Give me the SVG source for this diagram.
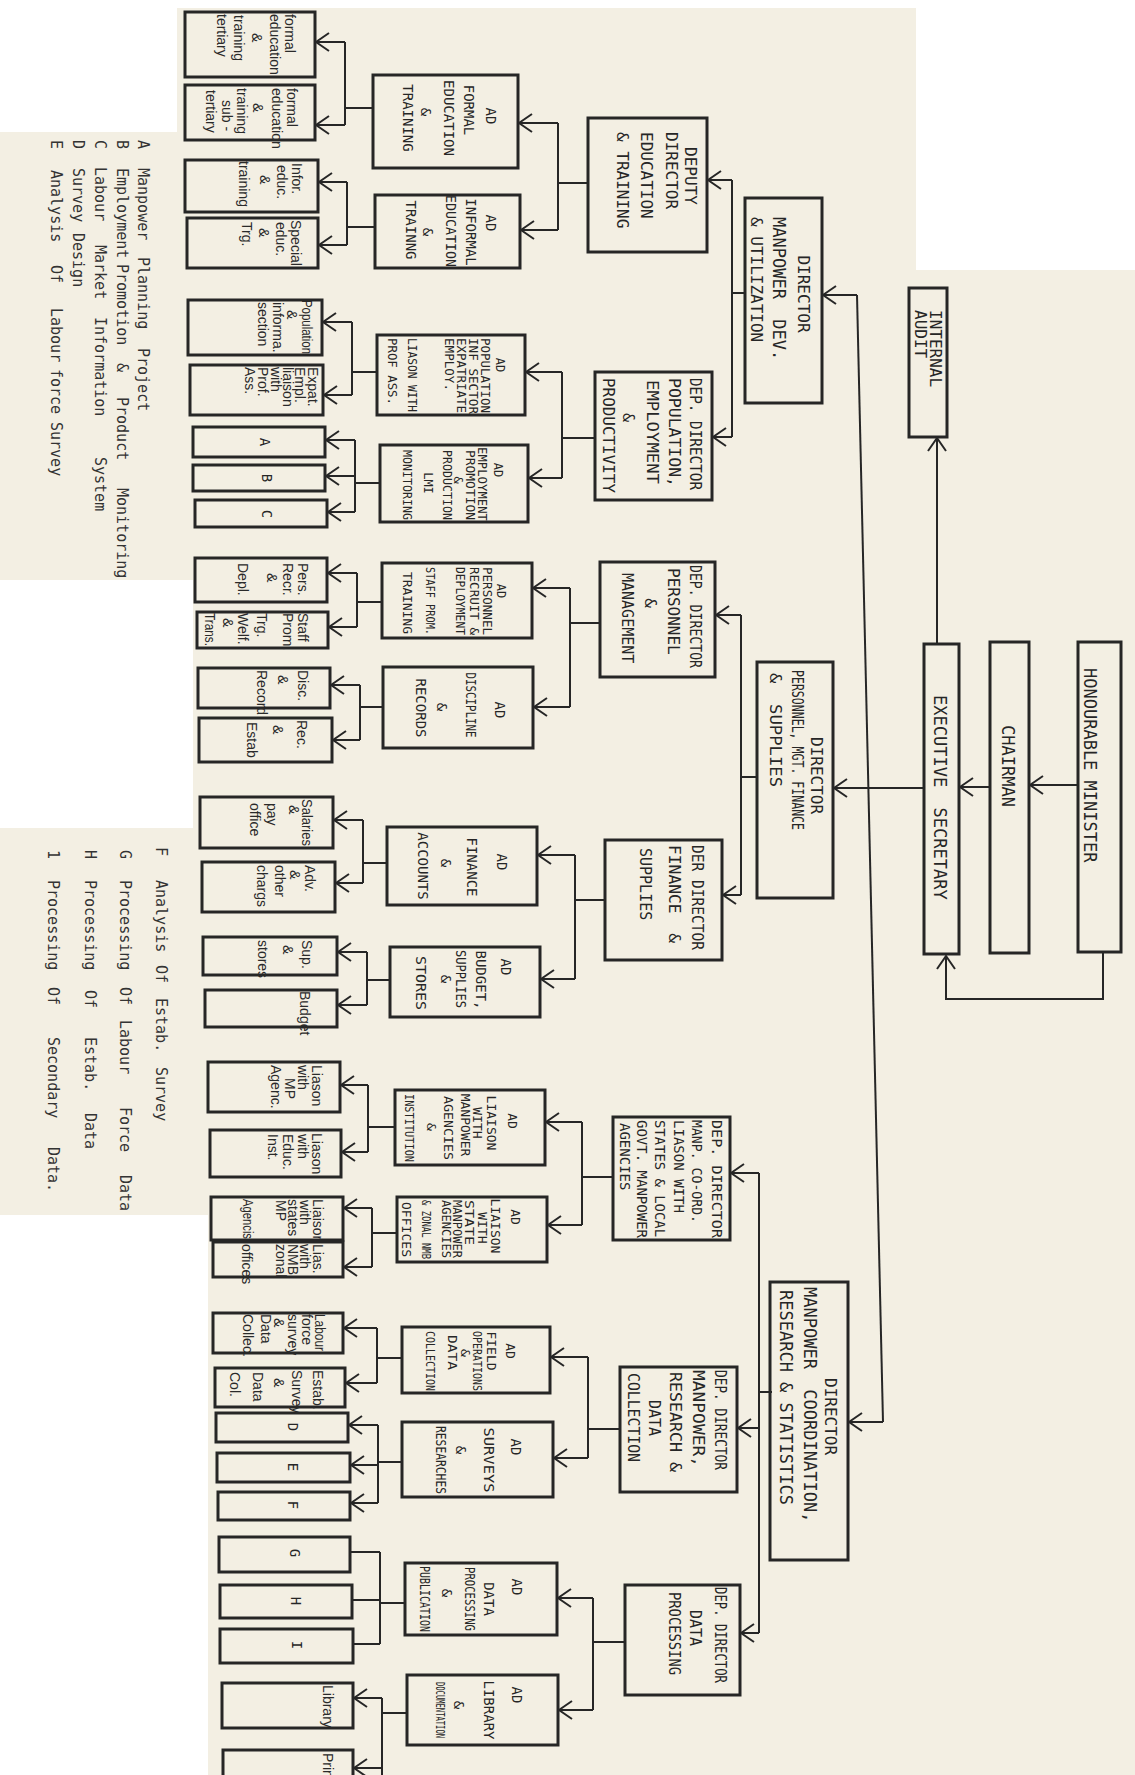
<svg xmlns="http://www.w3.org/2000/svg" width="1135" height="1775" viewBox="0 0 1135 1775">
<style>
.b{fill:none;stroke:#262626;stroke-width:3}
.m{font-family:"DejaVu Sans Mono",monospace;fill:#262626;dominant-baseline:central}
.h{font-family:"Liberation Sans",Arial,sans-serif;fill:#2a2a2a;dominant-baseline:central;font-size:14px}
.lg{font-family:"DejaVu Sans Mono",monospace;fill:#333;dominant-baseline:central;font-size:15px}
.c{text-anchor:middle}
.s12{font-size:12px}.s13{font-size:13px}.s14{font-size:14px}.s15{font-size:15px}.s16{font-size:16px}.s17{font-size:17px}
.k{fill:none;stroke:#262626;stroke-width:2}
.a{marker-end:url(#ah)}
</style>
<defs>
<marker id="ah" markerUnits="userSpaceOnUse" markerWidth="16" markerHeight="20" viewBox="0 0 16 20" refX="14" refY="10" orient="auto"><path d="M1,1 L14,10 L1,19" fill="none" stroke="#262626" stroke-width="2"/></marker>
</defs>
<rect width="1135" height="1775" fill="#ffffff"/>
<path d="M177,8 H916 V270 H1135 V1775 H208 V1215 H0 V828 H193 V580 H0 V132 H177 Z" fill="#f3efe3"/>

<g id="legend" transform="rotate(90)">
<text class="lg" y="-143"><tspan x="140">A</tspan><tspan x="168">Manpower</tspan><tspan x="257">Planning</tspan><tspan x="348">Project</tspan></text>
<text class="lg" y="-122"><tspan x="140">B</tspan><tspan x="168">Employment</tspan><tspan x="264">Promotion</tspan><tspan x="363">&amp;</tspan><tspan x="397">Product</tspan><tspan x="488">Monitoring</tspan></text>
<text class="lg" y="-100"><tspan x="140">C</tspan><tspan x="167">Labour</tspan><tspan x="245">Market</tspan><tspan x="317">Information</tspan><tspan x="457">System</tspan></text>
<text class="lg" y="-78"><tspan x="140">D</tspan><tspan x="168">Survey</tspan><tspan x="233">Design</tspan></text>
<text class="lg" y="-56"><tspan x="140">E</tspan><tspan x="170">Analysis</tspan><tspan x="265">Of</tspan><tspan x="308">Labour</tspan><tspan x="369">force</tspan><tspan x="422">Survey</tspan></text>
<text class="lg" y="-161"><tspan x="847">F</tspan><tspan x="880">Analysis</tspan><tspan x="965">Of</tspan><tspan x="998">Estab.</tspan><tspan x="1067">Survey</tspan></text>
<text class="lg" y="-125"><tspan x="850">G</tspan><tspan x="880">Processing</tspan><tspan x="987">Of</tspan><tspan x="1020">Labour</tspan><tspan x="1107">Force</tspan><tspan x="1175">Data</tspan></text>
<text class="lg" y="-90"><tspan x="850">H</tspan><tspan x="880">Processing</tspan><tspan x="990">Of</tspan><tspan x="1037">Estab.</tspan><tspan x="1113">Data</tspan></text>
<text class="lg" y="-53"><tspan x="850">1</tspan><tspan x="880">Processing</tspan><tspan x="987">Of</tspan><tspan x="1037">Secondary</tspan><tspan x="1147">Data.</tspan></text>
</g>

<g id="connectors">
<path class="k" d="M857,295 L883,1422" stroke-width="1.6"/>
<path class="k a" d="M857,295 H823"/>
<path class="k a" d="M883,1422 H849"/>
<path class="k a" d="M1078,785 H1030"/>
<path class="k a" d="M990,787 H960"/>
<path class="k a" d="M937,644 V438"/>
<path class="k a" d="M1103,952 V999 H946 V956"/>
<path class="k a" d="M924,788 H834"/>
<path class="k" d="M745,293 H732 M732,180 V437"/>
<path class="k a" d="M732,180 H708"/>
<path class="k a" d="M732,437 H713"/>
<path class="k" d="M757,777 H741 M741,615 V895"/>
<path class="k a" d="M741,615 H716"/>
<path class="k a" d="M741,895 H723"/>
<path class="k" d="M772,1392 H759 M759,1173 V1633"/>
<path class="k a" d="M759,1173 H731"/>
<path class="k a" d="M759,1428 H738"/>
<path class="k a" d="M759,1633 H741"/>
<path class="k" d="M588,183 H558 M558,123 V230"/>
<path class="k a" d="M558,123 H519"/>
<path class="k a" d="M558,230 H521"/>
<path class="k" d="M595,438 H562 M562,372 V478"/>
<path class="k a" d="M562,372 H526"/>
<path class="k a" d="M562,478 H529"/>
<path class="k" d="M600,623 H570 M570,588 V707"/>
<path class="k a" d="M570,588 H533"/>
<path class="k a" d="M570,707 H534"/>
<path class="k" d="M605,900 H575 M575,855 V979"/>
<path class="k a" d="M575,855 H538"/>
<path class="k a" d="M575,979 H541"/>
<path class="k" d="M613,1177 H582 M582,1122 V1225"/>
<path class="k a" d="M582,1122 H546"/>
<path class="k a" d="M582,1225 H548"/>
<path class="k" d="M620,1429 H588 M588,1357 V1458"/>
<path class="k a" d="M588,1357 H551"/>
<path class="k a" d="M588,1458 H554"/>
<path class="k" d="M625,1642 H593 M593,1598 V1710"/>
<path class="k a" d="M593,1598 H558"/>
<path class="k a" d="M593,1710 H559"/>
<path class="k" d="M373,108 H345 M345,42 V125"/>
<path class="k a" d="M345,42 H316"/>
<path class="k a" d="M345,125 H316"/>
<path class="k" d="M375,227 H347 M347,182 V245"/>
<path class="k a" d="M347,182 H319"/>
<path class="k a" d="M347,245 H319"/>
<path class="k" d="M377,372 H352 M352,322 V395"/>
<path class="k a" d="M352,322 H323"/>
<path class="k a" d="M352,395 H324"/>
<path class="k" d="M380,483 H355 M355,440 V512"/>
<path class="k a" d="M355,440 H326"/>
<path class="k a" d="M355,476 H326"/>
<path class="k a" d="M355,512 H328"/>
<path class="k" d="M382,602 H357 M357,573 V627"/>
<path class="k a" d="M357,573 H328"/>
<path class="k a" d="M357,627 H329"/>
<path class="k" d="M383,707 H360 M360,685 V740"/>
<path class="k a" d="M360,685 H331"/>
<path class="k a" d="M360,740 H333"/>
<path class="k" d="M387,863 H363 M363,820 V883"/>
<path class="k a" d="M363,820 H334"/>
<path class="k a" d="M363,883 H336"/>
<path class="k" d="M390,980 H367 M367,952 V1005"/>
<path class="k a" d="M367,952 H338"/>
<path class="k a" d="M367,1005 H338"/>
<path class="k" d="M395,1127 H368 M368,1085 V1152"/>
<path class="k a" d="M368,1085 H341"/>
<path class="k a" d="M368,1152 H342"/>
<path class="k" d="M397,1233 H372 M372,1208 V1267"/>
<path class="k a" d="M372,1208 H344"/>
<path class="k a" d="M372,1267 H344"/>
<path class="k" d="M402,1358 H377 M377,1328 V1383"/>
<path class="k a" d="M377,1328 H344"/>
<path class="k a" d="M377,1383 H346"/>
<path class="k" d="M402,1462 H378 M378,1425 V1503"/>
<path class="k a" d="M378,1425 H349"/>
<path class="k a" d="M378,1465 H351"/>
<path class="k a" d="M378,1503 H351"/>
<path class="k" d="M405,1603 H380 M380,1552 V1644 M380,1552 H351 M380,1600 H353 M380,1644 H354"/>
<path class="k" d="M407,1713 H382 M382,1698 V1775"/>
<path class="k a" d="M382,1698 H354"/>
<path class="k a" d="M382,1768 H354"/>
</g>

<g id="n-minister"><rect class="b" x="1078" y="642" width="43" height="310"/><g transform="rotate(90)"><text class="m s17" x="668" y="-1090">HONOURABLE MINISTER</text></g></g>
<g id="n-chairman"><rect class="b" x="990" y="642" width="39" height="311"/><g transform="rotate(90)"><text class="m s17" x="725" y="-1008">CHAIRMAN</text></g></g>
<g id="n-execsec"><rect class="b" x="924" y="644" width="35" height="310"/><g transform="rotate(90)"><text class="m s17" x="695" y="-940" xml:space="preserve">EXECUTIVE  SECRETARY</text></g></g>
<g id="n-audit"><rect class="b" x="909" y="288" width="38" height="149"/><g transform="rotate(90)"><text class="m s16" x="310" y="-935">INTERNAL</text><text class="m s16" x="310" y="-920">AUDIT</text></g></g>

<g id="n-dir-mdu"><rect class="b" x="745" y="198" width="77" height="205"/><g transform="rotate(90)">
<text class="m s16 c" x="294" y="-803">DIRECTOR</text>
<text class="m s17" x="217" y="-779" xml:space="preserve">MANPOWER  DEV.</text>
<text class="m s16" x="217" y="-756">&amp; UTILIZATION</text></g></g>
<g id="n-dir-pmfs"><rect class="b" x="757" y="662" width="76" height="236"/><g transform="rotate(90)">
<text class="m s16" x="737" y="-816">DIRECTOR</text>
<text class="m s16" x="670" y="-797" textLength="160" lengthAdjust="spacingAndGlyphs">PERSONNEL, MGT. FINANCE</text>
<text class="m s16" x="673" y="-775" xml:space="preserve" textLength="114" lengthAdjust="spacingAndGlyphs">&amp;  SUPPLIES</text></g></g>
<g id="n-dir-mcrs"><rect class="b" x="770" y="1282" width="78" height="278"/><g transform="rotate(90)">
<text class="m s16" x="1378" y="-830">DIRECTOR</text>
<text class="m s17" x="1287" y="-810" xml:space="preserve">MANPOWER  COORDINATION,</text>
<text class="m s17" x="1290" y="-786">RESEARCH &amp; STATISTICS</text></g></g>

<g id="n-dd-edu"><rect class="b" x="588" y="118" width="119" height="134"/><g transform="rotate(90)">
<text class="m s16" x="147" y="-690">DEPUTY</text>
<text class="m s16" x="132" y="-671">DIRECTOR</text>
<text class="m s16" x="132" y="-646">EDUCATION</text>
<text class="m s16" x="132" y="-622">&amp; TRAINING</text></g></g>
<g id="n-dd-pop"><rect class="b" x="595" y="372" width="117" height="128"/><g transform="rotate(90)">
<text class="m s15" x="378" y="-695" textLength="112" lengthAdjust="spacingAndGlyphs">DEP. DIRECTOR</text>
<text class="m s15" x="378" y="-674" textLength="109" lengthAdjust="spacingAndGlyphs">POPULATION,</text>
<text class="m s15" x="380" y="-652" textLength="104" lengthAdjust="spacingAndGlyphs">EMPLOYMENT</text>
<text class="m s15" x="413" y="-628">&amp;</text>
<text class="m s15" x="378" y="-608" textLength="115" lengthAdjust="spacingAndGlyphs">PRODUCTIVITY</text></g></g>
<g id="n-dd-pm"><rect class="b" x="600" y="562" width="115" height="115"/><g transform="rotate(90)">
<text class="m s15" x="565" y="-695" textLength="103" lengthAdjust="spacingAndGlyphs">DEP. DIRECTOR</text>
<text class="m s16" x="568" y="-673">PERSONNEL</text>
<text class="m s16 c" x="603" y="-650">&amp;</text>
<text class="m s15" x="573" y="-627">MANAGEMENT</text></g></g>
<g id="n-dd-fs"><rect class="b" x="605" y="840" width="117" height="120"/><g transform="rotate(90)">
<text class="m s15" x="845" y="-697" textLength="105" lengthAdjust="spacingAndGlyphs">DER DIRECTOR</text>
<text class="m s15" x="845" y="-674" xml:space="preserve" textLength="98" lengthAdjust="spacingAndGlyphs">FINANCE  &amp;</text>
<text class="m s15" x="848" y="-645">SUPPLIES</text></g></g>
<g id="n-dd-coord"><rect class="b" x="613" y="1117" width="117" height="123"/><g transform="rotate(90)">
<text class="m s14" x="1120" y="-717" textLength="118" lengthAdjust="spacingAndGlyphs">DEP. DIRECTOR</text>
<text class="m s14" x="1120" y="-697" textLength="103" lengthAdjust="spacingAndGlyphs">MANP. CO-ORD.</text>
<text class="m s14" x="1120" y="-679" textLength="93" lengthAdjust="spacingAndGlyphs">LIASON WITH</text>
<text class="m s14" x="1120" y="-660" textLength="117" lengthAdjust="spacingAndGlyphs">STATES &amp; LOCAL</text>
<text class="m s14" x="1120" y="-642" textLength="118" lengthAdjust="spacingAndGlyphs">GOVT. MANPOWER</text>
<text class="m s14" x="1123" y="-625">AGENCIES</text></g></g>
<g id="n-dd-mrdc"><rect class="b" x="620" y="1367" width="117" height="125"/><g transform="rotate(90)">
<text class="m s15" x="1370" y="-720" textLength="100" lengthAdjust="spacingAndGlyphs">DEP. DIRECTOR</text>
<text class="m s15" x="1370" y="-698" textLength="97" lengthAdjust="spacingAndGlyphs">MANPOWER,</text>
<text class="m s15" x="1372" y="-675" textLength="100" lengthAdjust="spacingAndGlyphs">RESEARCH &amp;</text>
<text class="m s15 c" x="1418" y="-654">DATA</text>
<text class="m s15" x="1373" y="-633" textLength="89" lengthAdjust="spacingAndGlyphs">COLLECTION</text></g></g>
<g id="n-dd-dp"><rect class="b" x="625" y="1585" width="115" height="110"/><g transform="rotate(90)">
<text class="m s15" x="1587" y="-720" textLength="96" lengthAdjust="spacingAndGlyphs">DEP. DIRECTOR</text>
<text class="m s15 c" x="1628" y="-695">DATA</text>
<text class="m s15" x="1592" y="-674" textLength="83" lengthAdjust="spacingAndGlyphs">PROCESSING</text></g></g>

<g id="n-ad-formal"><rect class="b" x="373" y="75" width="145" height="93"/><g transform="rotate(90)">
<text class="m s14 c" x="116" y="-491">AD</text>
<text class="m s14 c" x="110" y="-469">FORMAL</text>
<text class="m s14 c" x="118" y="-449">EDUCATION</text>
<text class="m s14 c" x="112" y="-426">&amp;</text>
<text class="m s14 c" x="118" y="-408">TRAINING</text></g></g>
<g id="n-ad-informal"><rect class="b" x="375" y="195" width="145" height="73"/><g transform="rotate(90)">
<text class="m s14 c" x="223" y="-491">AD</text>
<text class="m s14 c" x="232" y="-471">INFORMAL</text>
<text class="m s14 c" x="231" y="-451" textLength="72" lengthAdjust="spacingAndGlyphs">EDUCATION</text>
<text class="m s14 c" x="232" y="-428">&amp;</text>
<text class="m s14 c" x="230" y="-411">TRAINNG</text></g></g>
<g id="n-ad-pop"><rect class="b" x="377" y="335" width="148" height="80"/><g transform="rotate(90)">
<text class="m s12 c" x="365" y="-500">AD</text>
<text class="m s12" x="338" y="-485" textLength="75" lengthAdjust="spacingAndGlyphs">POPULATION</text>
<text class="m s12" x="338" y="-473" textLength="76" lengthAdjust="spacingAndGlyphs">INF SECTOR</text>
<text class="m s12" x="338" y="-461" textLength="75" lengthAdjust="spacingAndGlyphs">EXPATRIATE</text>
<text class="m s12" x="338" y="-449" textLength="53" lengthAdjust="spacingAndGlyphs">EMPLOY.</text>
<text class="m s12" x="338" y="-412" textLength="74" lengthAdjust="spacingAndGlyphs">LIASON WITH</text>
<text class="m s12" x="338" y="-392" textLength="67" lengthAdjust="spacingAndGlyphs">PROF ASS.</text></g></g>
<g id="n-ad-emp"><rect class="b" x="380" y="445" width="148" height="77"/><g transform="rotate(90)">
<text class="m s12 c" x="470" y="-498">AD</text>
<text class="m s12" x="447" y="-482" textLength="74" lengthAdjust="spacingAndGlyphs">EMPLOYMENT</text>
<text class="m s12" x="450" y="-470" textLength="70" lengthAdjust="spacingAndGlyphs">PROMOTION</text>
<text class="m s12 c" x="480" y="-458">&amp;</text>
<text class="m s12" x="450" y="-447" textLength="70" lengthAdjust="spacingAndGlyphs">PRODUCTION</text>
<text class="m s12 c" x="483" y="-428">LMI</text>
<text class="m s12" x="450" y="-407" textLength="70" lengthAdjust="spacingAndGlyphs">MONITORING</text></g></g>
<g id="n-ad-pers"><rect class="b" x="382" y="563" width="150" height="75"/><g transform="rotate(90)">
<text class="m s12 c" x="591" y="-501">AD</text>
<text class="m s12" x="567" y="-487" textLength="68" lengthAdjust="spacingAndGlyphs">PERSONNEL</text>
<text class="m s12" x="567" y="-474" textLength="68" lengthAdjust="spacingAndGlyphs">RECRUIT &amp;</text>
<text class="m s12" x="567" y="-460" textLength="68" lengthAdjust="spacingAndGlyphs">DEPLOYMENT</text>
<text class="m s12" x="567" y="-430" textLength="68" lengthAdjust="spacingAndGlyphs">STAFF PROM.</text>
<text class="m s12" x="572" y="-407" textLength="62" lengthAdjust="spacingAndGlyphs">TRAINING</text></g></g>
<g id="n-ad-disc"><rect class="b" x="383" y="667" width="150" height="81"/><g transform="rotate(90)">
<text class="m s14 c" x="710" y="-500">AD</text>
<text class="m s14 c" x="705" y="-471" textLength="65" lengthAdjust="spacingAndGlyphs">DISCIPLINE</text>
<text class="m s14 c" x="707" y="-442">&amp;</text>
<text class="m s14 c" x="708" y="-421">RECORDS</text></g></g>
<g id="n-ad-fin"><rect class="b" x="387" y="827" width="150" height="78"/><g transform="rotate(90)">
<text class="m s14 c" x="862" y="-502">AD</text>
<text class="m s14 c" x="867" y="-472">FINANCE</text>
<text class="m s14 c" x="863" y="-446">&amp;</text>
<text class="m s14 c" x="866" y="-423">ACCOUNTS</text></g></g>
<g id="n-ad-budget"><rect class="b" x="390" y="947" width="150" height="70"/><g transform="rotate(90)">
<text class="m s14 c" x="967" y="-506">AD</text>
<text class="m s14 c" x="980" y="-481">BUDGET,</text>
<text class="m s14 c" x="979" y="-461" textLength="58" lengthAdjust="spacingAndGlyphs">SUPPLIES</text>
<text class="m s14 c" x="979" y="-446">&amp;</text>
<text class="m s14 c" x="983" y="-421" textLength="54" lengthAdjust="spacingAndGlyphs">STORES</text></g></g>
<g id="n-ad-liaison1"><rect class="b" x="395" y="1090" width="150" height="75"/><g transform="rotate(90)">
<text class="m s13 c" x="1121" y="-512">AD</text>
<text class="m s13 c" x="1123" y="-491">LIAISON</text>
<text class="m s13 c" x="1123" y="-477">WITH</text>
<text class="m s13 c" x="1125" y="-465">MANPOWER</text>
<text class="m s13 c" x="1128" y="-448" textLength="64" lengthAdjust="spacingAndGlyphs">AGENCIES</text>
<text class="m s13 c" x="1127" y="-431">&amp;</text>
<text class="m s13 c" x="1128" y="-409" textLength="68" lengthAdjust="spacingAndGlyphs">INSTITUTION</text></g></g>
<g id="n-ad-liaison2"><rect class="b" x="397" y="1197" width="150" height="65"/><g transform="rotate(90)">
<text class="m s13 c" x="1217" y="-515">AD</text>
<text class="m s13 c" x="1226" y="-495">LIAISON</text>
<text class="m s13 c" x="1228" y="-482">WITH</text>
<text class="m s13" x="1200" y="-469" textLength="45" lengthAdjust="spacingAndGlyphs">STATE</text>
<text class="m s13" x="1200" y="-457" textLength="58" lengthAdjust="spacingAndGlyphs">MANPOWER</text>
<text class="m s13" x="1200" y="-446" textLength="58" lengthAdjust="spacingAndGlyphs">AGENCIES</text>
<text class="m s13" x="1200" y="-426" textLength="59" lengthAdjust="spacingAndGlyphs">&amp; ZONAL NMB</text>
<text class="m s13" x="1202" y="-406" textLength="55" lengthAdjust="spacingAndGlyphs">OFFICES</text></g></g>
<g id="n-ad-field"><rect class="b" x="402" y="1327" width="148" height="66"/><g transform="rotate(90)">
<text class="m s13 c" x="1351" y="-510">AD</text>
<text class="m s13 c" x="1351" y="-491">FIELD</text>
<text class="m s13" x="1331" y="-477" textLength="60" lengthAdjust="spacingAndGlyphs">OPERATIONS</text>
<text class="m s13 c" x="1353" y="-465">&amp;</text>
<text class="m s13" x="1335" y="-452" textLength="35" lengthAdjust="spacingAndGlyphs">DATA</text>
<text class="m s13" x="1331" y="-430" textLength="60" lengthAdjust="spacingAndGlyphs">COLLECTION</text></g></g>
<g id="n-ad-surveys"><rect class="b" x="402" y="1422" width="151" height="75"/><g transform="rotate(90)">
<text class="m s14 c" x="1447" y="-516">AD</text>
<text class="m s14 c" x="1460" y="-489" textLength="65" lengthAdjust="spacingAndGlyphs">SURVEYS</text>
<text class="m s14 c" x="1450" y="-461">&amp;</text>
<text class="m s14 c" x="1460" y="-441" textLength="68" lengthAdjust="spacingAndGlyphs">RESEARCHES</text></g></g>
<g id="n-ad-dataproc"><rect class="b" x="405" y="1563" width="152" height="72"/><g transform="rotate(90)">
<text class="m s14 c" x="1587" y="-517">AD</text>
<text class="m s14 c" x="1599" y="-489">DATA</text>
<text class="m s14 c" x="1599" y="-470" textLength="64" lengthAdjust="spacingAndGlyphs">PROCESSING</text>
<text class="m s14 c" x="1593" y="-447">&amp;</text>
<text class="m s14 c" x="1599" y="-425" textLength="66" lengthAdjust="spacingAndGlyphs">PUBLICATION</text></g></g>
<g id="n-ad-library"><rect class="b" x="407" y="1675" width="151" height="70"/><g transform="rotate(90)">
<text class="m s14 c" x="1695" y="-517">AD</text>
<text class="m s14 c" x="1710" y="-489" textLength="59" lengthAdjust="spacingAndGlyphs">LIBRARY</text>
<text class="m s14 c" x="1705" y="-459">&amp;</text>
<text class="m s12 c" x="1710" y="-440" textLength="56" lengthAdjust="spacingAndGlyphs">DOCUMENTATION</text></g></g>

<g id="l-formal-tertiary"><rect class="b" x="185" y="12" width="130" height="65"/><g transform="rotate(90)">
<text class="h" x="14" y="-290">formal</text><text class="h" x="14" y="-275">education</text><text class="h" x="33" y="-257">&amp;</text><text class="h" x="15" y="-239">training</text><text class="h" x="14" y="-222">tertiary</text></g></g>
<g id="l-formal-sub"><rect class="b" x="185" y="85" width="130" height="55"/><g transform="rotate(90)">
<text class="h" x="88" y="-292">formal</text><text class="h" x="88" y="-277">education</text><text class="h" x="103" y="-258">&amp;</text><text class="h" x="88" y="-242">training</text><text class="h" x="100" y="-227">sub -</text><text class="h" x="90" y="-211">tertiary</text></g></g>
<g id="l-infor"><rect class="b" x="185" y="160" width="133" height="52"/><g transform="rotate(90)">
<text class="h" x="163" y="-297">Infor.</text><text class="h" x="165" y="-282">educ.</text><text class="h" x="175" y="-265">&amp;</text><text class="h" x="161" y="-244">training</text></g></g>
<g id="l-special"><rect class="b" x="187" y="218" width="131" height="50"/><g transform="rotate(90)">
<text class="h" x="220" y="-296">Special</text><text class="h" x="222" y="-281">educ.</text><text class="h" x="228" y="-264">&amp;</text><text class="h" x="222" y="-247">Trg.</text></g></g>
<g id="l-population"><rect class="b" x="188" y="300" width="134" height="55"/><g transform="rotate(90)">
<text class="h" x="300" y="-307" textLength="54" lengthAdjust="spacingAndGlyphs">Population</text><text class="h" x="310" y="-292">&amp;</text><text class="h" x="302" y="-278">informa.</text><text class="h" x="302" y="-263">section</text></g></g>
<g id="l-expat"><rect class="b" x="190" y="365" width="133" height="50"/><g transform="rotate(90)">
<text class="h" x="367" y="-313">Expat.</text><text class="h" x="367" y="-300">Empl.</text><text class="h" x="367" y="-288">liaison</text><text class="h" x="367" y="-276">with</text><text class="h" x="367" y="-263">Prof.</text><text class="h" x="367" y="-250">Ass.</text></g></g>
<g id="l-a"><rect class="b" x="193" y="427" width="132" height="30"/><g transform="rotate(90)"><text class="m s14 c" x="442" y="-265">A</text></g></g>
<g id="l-b"><rect class="b" x="193" y="465" width="132" height="26"/><g transform="rotate(90)"><text class="m s14 c" x="478" y="-267">B</text></g></g>
<g id="l-c"><rect class="b" x="195" y="500" width="132" height="27"/><g transform="rotate(90)"><text class="m s14 c" x="514" y="-267">C</text></g></g>
<g id="l-pers"><rect class="b" x="195" y="558" width="132" height="44"/><g transform="rotate(90)">
<text class="h" x="563" y="-303">Pers.</text><text class="h" x="563" y="-288">Recr.</text><text class="h" x="573" y="-272">&amp;</text><text class="h" x="563" y="-243">Depl.</text></g></g>
<g id="l-staff"><rect class="b" x="197" y="612" width="131" height="36"/><g transform="rotate(90)">
<text class="h" x="613" y="-303">Staff</text><text class="h" x="613" y="-288">Prom.</text><text class="h" x="613" y="-262">Trg.</text><text class="h" x="613" y="-243">Welf.</text><text class="h" x="618" y="-228">&amp;</text><text class="h" x="613" y="-210" textLength="33" lengthAdjust="spacingAndGlyphs">Trans.</text></g></g>
<g id="l-disc"><rect class="b" x="198" y="668" width="132" height="40"/><g transform="rotate(90)">
<text class="h" x="670" y="-303">Disc.</text><text class="h" x="675" y="-283">&amp;</text><text class="h" x="670" y="-262">Record</text></g></g>
<g id="l-rec"><rect class="b" x="199" y="718" width="133" height="44"/><g transform="rotate(90)">
<text class="h" x="720" y="-302">Rec.</text><text class="h" x="725" y="-278">&amp;</text><text class="h" x="722" y="-252">Estab</text></g></g>
<g id="l-salaries"><rect class="b" x="200" y="797" width="133" height="51"/><g transform="rotate(90)">
<text class="h" x="799" y="-307" textLength="47" lengthAdjust="spacingAndGlyphs">Salaries</text><text class="h" x="805" y="-294">&amp;</text><text class="h" x="803" y="-272">pay</text><text class="h" x="803" y="-255">office</text></g></g>
<g id="l-adv"><rect class="b" x="202" y="862" width="133" height="50"/><g transform="rotate(90)">
<text class="h" x="865" y="-310">Adv.</text><text class="h" x="870" y="-295">&amp;</text><text class="h" x="865" y="-280">other</text><text class="h" x="865" y="-262">chargs</text></g></g>
<g id="l-sup"><rect class="b" x="203" y="937" width="134" height="38"/><g transform="rotate(90)">
<text class="h" x="940" y="-307">Sup.</text><text class="h" x="945" y="-288">&amp;</text><text class="h" x="940" y="-263">stores</text></g></g>
<g id="l-budget"><rect class="b" x="205" y="990" width="132" height="37"/><g transform="rotate(90)"><text class="h" x="991" y="-305">Budget</text></g></g>
<g id="l-liason-mp"><rect class="b" x="208" y="1062" width="132" height="50"/><g transform="rotate(90)">
<text class="h" x="1065" y="-317">Liason</text><text class="h" x="1065" y="-303">with</text><text class="h" x="1078" y="-290">MP</text><text class="h" x="1065" y="-276">Agenc.</text></g></g>
<g id="l-liason-edu"><rect class="b" x="210" y="1130" width="131" height="47"/><g transform="rotate(90)">
<text class="h" x="1133" y="-317">Liason</text><text class="h" x="1134" y="-303">with</text><text class="h" x="1134" y="-288">Educ.</text><text class="h" x="1134" y="-273">Inst.</text></g></g>
<g id="l-liaison-states"><rect class="b" x="211" y="1197" width="132" height="43"/><g transform="rotate(90)">
<text class="h" x="1199" y="-318">Liaison</text><text class="h" x="1200" y="-305">with</text><text class="h" x="1199" y="-293">states</text><text class="h" x="1200" y="-281">MP</text><text class="h" x="1199" y="-248" textLength="40" lengthAdjust="spacingAndGlyphs">Agencis</text></g></g>
<g id="l-lias-nmb"><rect class="b" x="213" y="1242" width="130" height="35"/><g transform="rotate(90)">
<text class="h" x="1244" y="-318">Lias.</text><text class="h" x="1244" y="-305">with</text><text class="h" x="1244" y="-293">NMB</text><text class="h" x="1244" y="-281">zonal</text><text class="h" x="1244" y="-247">offices</text></g></g>
<g id="l-labour"><rect class="b" x="213" y="1313" width="130" height="40"/><g transform="rotate(90)">
<text class="h" x="1314" y="-320" textLength="37" lengthAdjust="spacingAndGlyphs">Labour</text><text class="h" x="1314" y="-307">force</text><text class="h" x="1314" y="-293">survey</text><text class="h" x="1318" y="-279">&amp;</text><text class="h" x="1314" y="-266">Data</text><text class="h" x="1314" y="-248">Collec.</text></g></g>
<g id="l-estab"><rect class="b" x="215" y="1368" width="130" height="39"/><g transform="rotate(90)">
<text class="h" x="1370" y="-318">Estab.</text><text class="h" x="1370" y="-297">Survey</text><text class="h" x="1378" y="-279">&amp;</text><text class="h" x="1372" y="-258">Data</text><text class="h" x="1372" y="-235">Col.</text></g></g>
<g id="l-d"><rect class="b" x="216" y="1413" width="132" height="29"/><g transform="rotate(90)"><text class="m s14 c" x="1427" y="-293">D</text></g></g>
<g id="l-e"><rect class="b" x="217" y="1453" width="133" height="29"/><g transform="rotate(90)"><text class="m s14 c" x="1467" y="-293">E</text></g></g>
<g id="l-f"><rect class="b" x="218" y="1492" width="132" height="28"/><g transform="rotate(90)"><text class="m s14 c" x="1505" y="-293">F</text></g></g>
<g id="l-g"><rect class="b" x="219" y="1537" width="131" height="35"/><g transform="rotate(90)"><text class="m s14 c" x="1553" y="-295">G</text></g></g>
<g id="l-h"><rect class="b" x="220" y="1585" width="132" height="33"/><g transform="rotate(90)"><text class="m s14 c" x="1601" y="-296">H</text></g></g>
<g id="l-i"><rect class="b" x="220" y="1629" width="133" height="34"/><g transform="rotate(90)"><text class="m s14 c" x="1645" y="-297">I</text></g></g>
<g id="l-library"><rect class="b" x="222" y="1683" width="131" height="45"/><g transform="rotate(90)"><text class="h" x="1685" y="-328">Library</text></g></g>
<g id="l-printing"><rect class="b" x="223" y="1750" width="130" height="40"/><g transform="rotate(90)"><text class="h" x="1753" y="-328">Prin</text></g></g>
</svg>
